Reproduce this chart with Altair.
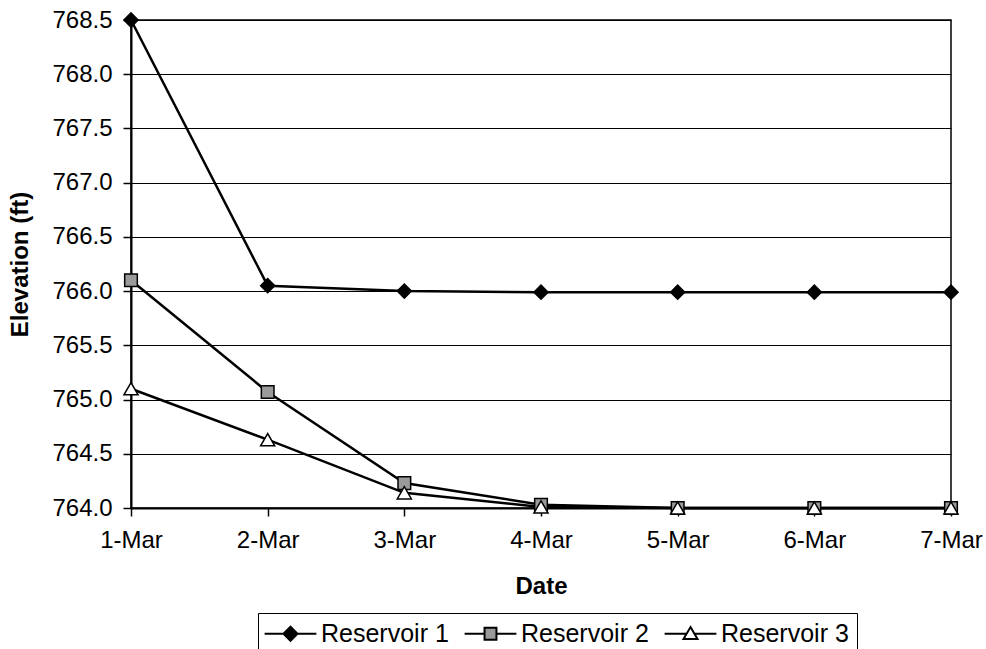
import altair as alt
import pandas as pd

dates = ["1-Mar", "2-Mar", "3-Mar", "4-Mar", "5-Mar", "6-Mar", "7-Mar"]
series_names = ["Reservoir 1", "Reservoir 2", "Reservoir 3"]
res1 = [768.5, 766.05, 766.0, 765.99, 765.99, 765.99, 765.99]
res2 = [766.1, 765.07, 764.23, 764.03, 764.0, 764.0, 764.0]
res3 = [765.1, 764.63, 764.14, 764.01, 764.0, 764.0, 764.0]
y_ticks = [764.0, 764.5, 765.0, 765.5, 766.0, 766.5, 767.0, 767.5, 768.0, 768.5]

marker_shapes = ["diamond", "square", "triangle-up"]
marker_fills = ["black", "#9a9a9a", "white"]
marker_strokes = ["black", "black", "black"]
marker_sizes = [200, 160, 200]
legend_paths = [
    "M-3.7,0H-1M1,0H3.7M0,-1L1,0L0,1L-1,0Z",
    "M-3.7,0H-0.85M0.85,0H3.7M-0.85,-0.85H0.85V0.85H-0.85Z",
    "M-3.7,0H-0.56M0.56,0H3.7M0,-0.95L1,0.75H-1Z",
]

rows = []
for name, vals in zip(series_names, [res1, res2, res3]):
    for d, v in zip(dates, vals):
        rows.append({"Date": d, "Elevation": v, "Series": name})
df = pd.DataFrame(rows)

FONT = "Liberation Sans"

x = alt.X(
    "Date:O",
    sort=dates,
    scale=alt.Scale(type="point", padding=0),
    axis=alt.Axis(title="Date", labelAngle=0, grid=False, tickSize=8,
                  labelPadding=12, titleY=85, titleBaseline="alphabetic"),
)
y = alt.Y(
    "Elevation:Q",
    scale=alt.Scale(domain=[764.0, 768.5], zero=False, nice=False),
    axis=alt.Axis(title="Elevation (ft)", values=y_ticks, format=".1f",
                  grid=True, tickSize=8, labelPadding=11,
                  titleX=-104, titleBaseline="alphabetic"),
)

base = alt.Chart(df)

lines = base.mark_line(color="black", strokeWidth=2.5).encode(
    x=x, y=y, detail="Series:N"
)

point_layers = []
for name, shp, fc, sz in zip(series_names, marker_shapes, marker_fills, marker_sizes):
    point_layers.append(
        base.transform_filter(alt.datum.Series == name)
        .mark_point(shape=shp, fill=fc, filled=True, stroke="black",
                    strokeWidth=1.5, size=sz, opacity=1)
        .encode(x=x, y=y)
    )

leg = alt.Legend(
    title=None, orient="none", legendX=127, legendY=593, direction="horizontal",
    symbolSize=196, symbolOffset=12, labelOffset=18, labelFont=FONT,
    labelFontSize=25, labelColor="black", strokeColor="black", padding=8,
    columnPadding=11, symbolStrokeColor="black", symbolStrokeWidth=2,
    labelLimit=0,
)

legend_layer = base.transform_filter("false").mark_point(
    filled=True, strokeWidth=2, opacity=1
).encode(
    x=x, y=y,
    shape=alt.Shape("Series:N", scale=alt.Scale(domain=series_names, range=legend_paths), legend=leg),
    fill=alt.Fill("Series:N", scale=alt.Scale(domain=series_names, range=marker_fills), legend=leg),
    stroke=alt.Stroke("Series:N", scale=alt.Scale(domain=series_names, range=marker_strokes), legend=leg),
)

chart = alt.layer(lines, *point_layers, legend_layer).properties(
    width=820, height=488,
    autosize=alt.AutoSizeParams(type="none"),
    padding={"left": 131, "top": 20, "right": 35, "bottom": 141},
    background="white",
).configure_view(
    stroke="black", strokeWidth=1.5
).configure_axis(
    domainColor="black", domainWidth=2, tickColor="black", tickWidth=1.5,
    gridColor="black", gridWidth=1, gridOpacity=1,
    labelFont=FONT, labelFontSize=24, labelColor="black",
    titleFont=FONT, titleFontSize=24, titleFontWeight="bold", titleColor="black",
)

chart.save("out.html", embed_options={"renderer": "svg", "actions": False})
